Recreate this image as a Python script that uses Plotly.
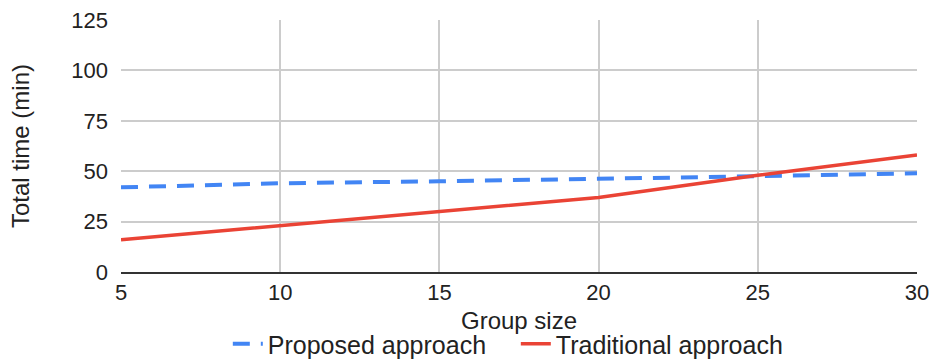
import plotly.graph_objects as go

group_size = [5, 10, 15, 20, 25, 30]
proposed = [42, 44, 45, 46, 47.5, 49]
traditional = [16, 23, 30, 37, 48, 58]
x_ticks = [5, 10, 15, 20, 25, 30]
y_ticks = [0, 25, 50, 75, 100, 125]

FONT = "Liberation Sans, Arial, sans-serif"

fig = go.Figure()
fig.add_trace(go.Scatter(
    x=group_size, y=proposed, mode="lines", name="Proposed approach",
    line=dict(color="#4285F4", width=4, dash="17px,11px"),
))
fig.add_trace(go.Scatter(
    x=group_size, y=traditional, mode="lines", name="Traditional approach",
    line=dict(color="#EA4335", width=3.5),
))

fig.update_layout(
    width=933, height=361,
    margin=dict(l=121, r=16, t=20, b=89, autoexpand=False),
    paper_bgcolor="white", plot_bgcolor="white",
    font=dict(family=FONT, size=22, color="#222222"),
    showlegend=True,
    legend=dict(orientation="h", x=0.496, xanchor="center", y=-0.286, yanchor="middle",
                font=dict(size=25, color="#222222"), itemwidth=30,
                entrywidth=243, tracegroupgap=0),
    xaxis=dict(
        range=[5, 30], tickvals=x_ticks, showgrid=True, gridcolor="#cccccc", gridwidth=1.5,
        zeroline=False, showline=True, linecolor="#333333", linewidth=2,
        ticks="", tickfont=dict(size=22), automargin=False, ticklabeloverflow="allow",
        title=dict(text="Group size", font=dict(size=24), standoff=8),
    ),
    yaxis=dict(
        range=[0, 125], tickvals=y_ticks, showgrid=True, gridcolor="#cccccc", gridwidth=1.5,
        zeroline=False, showline=False, automargin=False, ticklabeloverflow="allow",
        ticks="", tickfont=dict(size=22), ticklabelstandoff=12,
        title=dict(text="Total time (min)", font=dict(size=24), standoff=34),
    ),
)

fig.write_html(
    "out.html",
    config={"displayModeBar": False},
    post_script="document.body.style.margin='0';document.body.style.overflow='hidden';",
)
